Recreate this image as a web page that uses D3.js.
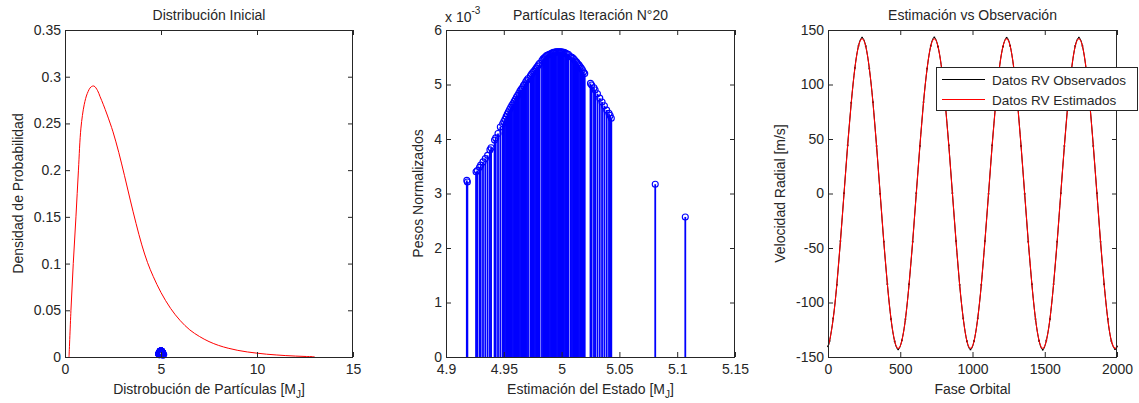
<!DOCTYPE html>
<html>
<head>
<meta charset="utf-8">
<script src="https://cdn.jsdelivr.net/npm/d3@7/dist/d3.min.js"></script>
<style>
  html, body { margin: 0; padding: 0; background: #fff; }
  svg { display: block; }
  text { font-family: "Liberation Sans", Arial, sans-serif; fill: #262626; }
</style>
</head>
<body>
<svg id="fig" width="1139" height="403"></svg>
<script>
// ---- Initial distribution (prior density over planet mass) ----
const masaX = [0.21, 0.31, 0.43, 0.57, 0.70, 0.83, 1.00, 1.16, 1.35, 1.51, 1.70, 1.82, 2.00, 2.20, 2.50,
  2.80, 3.10, 3.40, 3.70, 4.00, 4.30, 4.60, 5.00, 5.50, 6.00, 6.50, 7.00, 7.50, 8.00, 8.50, 9.00,
  9.50, 10.0, 10.5, 11.0, 11.5, 12.0, 12.5, 13.0];
const densidad = [0, 0.05, 0.10, 0.15, 0.20, 0.245, 0.270, 0.282, 0.289, 0.290, 0.285, 0.279, 0.270, 0.259, 0.241,
  0.219, 0.194, 0.168, 0.143, 0.120, 0.101, 0.086, 0.069, 0.052, 0.039, 0.029, 0.022, 0.0165, 0.0124, 0.0094, 0.0071,
  0.0054, 0.0041, 0.0030, 0.0022, 0.0015, 0.0010, 0.0006, 0.0003];

// ---- Particles at iteration 20: state estimate and normalised weight (x 1e-3) ----
const particulasX = [
  4.918, 4.9185, 4.926, 4.927, 4.929, 4.930, 4.932, 4.934, 4.936, 4.938, 4.939, 4.942, 4.943, 4.945, 4.947, 4.949, 4.950,
  4.951, 4.952, 4.953, 4.954, 4.955, 4.956, 4.957, 4.958, 4.959, 4.960, 4.961, 4.962, 4.963, 4.964, 4.965, 4.966,
  4.967, 4.968, 4.969, 4.970, 4.971, 4.973, 4.974, 4.975, 4.976, 4.977, 4.978, 4.979, 4.980, 4.981, 4.983,
  4.984, 4.985, 4.986, 4.987, 4.988, 4.989, 4.990, 4.991, 4.992, 4.993, 4.994, 4.995, 4.996, 4.997, 4.998, 4.999,
  5.000, 5.001, 5.002, 5.003, 5.004, 5.005, 5.006, 5.008, 5.009, 5.010, 5.011, 5.012, 5.013, 5.014, 5.015,
  5.016, 5.017, 5.018, 5.019, 5.020,
  5.025, 5.026, 5.028, 5.029, 5.031, 5.033, 5.035, 5.037, 5.039, 5.041, 5.042, 5.043,
  5.081, 5.107];
const pesos = [
  3.24, 3.21, 3.40, 3.42, 3.48, 3.52, 3.58, 3.64, 3.70, 3.80, 3.84, 3.98, 4.02, 4.10, 4.22, 4.28, 4.32,
  4.36, 4.41, 4.46, 4.50, 4.54, 4.58, 4.62, 4.65, 4.69, 4.73, 4.77, 4.80, 4.84, 4.88, 4.91, 4.94,
  4.98, 5.01, 5.05, 5.08, 5.11, 5.16, 5.19, 5.22, 5.24, 5.27, 5.30, 5.33, 5.36, 5.39, 5.44,
  5.47, 5.49, 5.51, 5.53, 5.54, 5.55, 5.56, 5.57, 5.58, 5.59, 5.59, 5.60, 5.60, 5.60, 5.60, 5.60,
  5.60, 5.59, 5.59, 5.58, 5.57, 5.56, 5.55, 5.51, 5.50, 5.48, 5.46, 5.43, 5.41, 5.38, 5.36,
  5.33, 5.30, 5.27, 5.23, 5.20,
  5.02, 4.99, 4.94, 4.90, 4.83, 4.75, 4.68, 4.61, 4.53, 4.47, 4.43, 4.38,
  3.17, 2.57];

// ---- Radial velocity curve over orbital phase ----
const fase = [0, 11, 36, 61, 86, 111, 136, 161, 186, 211, 236, 261, 286, 311, 336, 361, 386, 411, 436, 461,
  486, 511, 536, 561, 586, 611, 636, 661, 686, 711, 736, 761, 786, 811, 836, 861, 886, 911, 936, 961,
  986, 1011, 1036, 1061, 1086, 1111, 1136, 1161, 1186, 1211, 1236, 1261, 1286, 1311, 1336, 1361, 1386, 1411, 1436, 1461,
  1486, 1511, 1536, 1561, 1586, 1611, 1636, 1661, 1686, 1711, 1736, 1761, 1786, 1811, 1836, 1861, 1886, 1911, 1936, 1961,
  1986, 2000];
const rvEstimado = [-139.8,
  -135.1, -114.9, -83.5, -43.9, 0, 43.9, 83.5, 114.9, 135.1, 142, 135.1, 114.9, 83.5, 43.9, 0, -43.9, -83.5, -114.9, -135.1, -142,
  -135.1, -114.9, -83.5, -43.9, 0, 43.9, 83.5, 114.9, 135.1, 142, 135.1, 114.9, 83.5, 43.9, 0, -43.9, -83.5, -114.9, -135.1, -142,
  -135.1, -114.9, -83.5, -43.9, 0, 43.9, 83.5, 114.9, 135.1, 142, 135.1, 114.9, 83.5, 43.9, 0, -43.9, -83.5, -114.9, -135.1, -142,
  -135.1, -114.9, -83.5, -43.9, 0, 43.9, 83.5, 114.9, 135.1, 142, 135.1, 114.9, 83.5, 43.9, 0, -43.9, -83.5, -114.9, -135.1, -142,
  -139.8];
const rvObservado = [-140.2,
  -135.4, -114.6, -83.8, -43.6, 0.3, 44.2, 83.2, 115.2, 135.4, 143.0, 135.3, 114.6, 83.8, 43.6, -0.3, -44.2, -83.2, -115.2, -135.5, -143.0,
  -134.8, -115.2, -83.2, -44.2, 0.3, 43.6, 83.8, 114.6, 135.4, 143.2, 134.8, 115.2, 83.2, 44.2, 0.3, -43.6, -83.8, -114.6, -135.4, -143.1,
  -135.3, -114.6, -83.8, -43.6, -0.3, 44.2, 83.2, 115.2, 134.8, 142.9, 135.4, 114.6, 83.8, 43.6, -0.3, -44.2, -83.2, -115.2, -135.3, -143.3,
  -134.8, -115.2, -83.2, -44.2, 0.3, 43.6, 83.8, 114.6, 135.4, 143.0, 135.3, 114.6, 83.8, 43.6, 0.3, -44.2, -83.2, -115.1, -135.4, -142.8,
  -140.3];

// ---- Ticks ----
const ticksMasa = [0, 5, 10, 15];
const ticksDensidad = [0, 0.05, 0.1, 0.15, 0.2, 0.25, 0.3, 0.35];
const ticksEstado = [4.9, 4.95, 5, 5.05, 5.1, 5.15];
const ticksPesos = [0, 1, 2, 3, 4, 5, 6];
const ticksFase = [0, 500, 1000, 1500, 2000];
const ticksRV = [-150, -100, -50, 0, 50, 100, 150];

const svg = d3.select("#fig");
const TOP = 30, BOTTOM = 357;
const AXIS = "#262626";
const fmt = d => String(+(+d).toFixed(3));

function frame(x, y, xt, yt) {
  const [x0, x1] = x.range();
  const g = svg.append("g");
  g.append("g").attr("transform", `translate(0,${BOTTOM})`)
    .call(d3.axisBottom(x).tickValues(xt).tickFormat(fmt).tickSizeInner(-5).tickSizeOuter(0).tickPadding(7));
  g.append("g").attr("transform", `translate(0,${TOP})`)
    .call(d3.axisTop(x).tickValues(xt).tickFormat("").tickSizeInner(-5).tickSizeOuter(0));
  g.append("g").attr("transform", `translate(${x0},0)`)
    .call(d3.axisLeft(y).tickValues(yt).tickFormat(fmt).tickSizeInner(-5).tickSizeOuter(0).tickPadding(4));
  g.append("g").attr("transform", `translate(${x1},0)`)
    .call(d3.axisRight(y).tickValues(yt).tickFormat("").tickSizeInner(-5).tickSizeOuter(0));
  g.selectAll(".domain").remove();
  g.selectAll(".tick line").attr("stroke", AXIS);
  g.selectAll(".tick text").attr("font-size", 14).attr("fill", "#262626")
    .attr("font-family", "'Liberation Sans', Arial, sans-serif");
  g.append("rect").attr("x", x0 + 0.5).attr("y", TOP + 0.5)
    .attr("width", x1 - x0 - 1).attr("height", BOTTOM - TOP)
    .attr("fill", "none").attr("stroke", AXIS);
  return g;
}

function labels(x, title, ylab, ylabX, xlabNodes) {
  const [x0, x1] = x.range();
  const cx = (x0 + x1) / 2;
  svg.append("text").attr("x", cx).attr("y", 20).attr("text-anchor", "middle")
    .attr("font-size", 14).text(title);
  svg.append("text").attr("transform", `translate(${ylabX},${(TOP + BOTTOM) / 2}) rotate(-90)`)
    .attr("text-anchor", "middle").attr("font-size", 14).text(ylab);
  const t = svg.append("text").attr("x", cx).attr("y", 394).attr("text-anchor", "middle").attr("font-size", 14);
  xlabNodes(t);
}

function massLabel(base) {
  return t => {
    t.append("tspan").text(base + "[M");
    t.append("tspan").attr("font-size", 10).attr("dy", 4).text("J");
    t.append("tspan").attr("dy", -4).text("]");
  };
}

// ===== Panel 1: Distribución Inicial =====
const x1s = d3.scaleLinear().domain([0, 15]).range([65, 353]);
const y1s = d3.scaleLinear().domain([0, 0.35]).range([BOTTOM, TOP]);
svg.append("path")
  .datum(d3.zip(masaX, densidad))
  .attr("fill", "none").attr("stroke", "#ff0000").attr("stroke-width", 1)
  .attr("d", d3.line().x(d => x1s(d[0])).y(d => y1s(d[1])).curve(d3.curveCatmullRom));
svg.append("g").selectAll("circle")
  .data(d3.zip(particulasX, pesos))
  .join("circle")
  .attr("cx", d => x1s(d[0])).attr("cy", d => y1s(d[1] / 1000))
  .attr("r", 3.5).attr("fill", "none").attr("stroke", "#0000ff").attr("stroke-width", 1.5);
frame(x1s, y1s, ticksMasa, ticksDensidad);
labels(x1s, "Distribución Inicial", "Densidad de Probabilidad", 23, massLabel("Distrobución de Partículas "));

// ===== Panel 2: Partículas Iteración N°20 =====
const x2s = d3.scaleLinear().domain([4.9, 5.15]).range([446, 735]);
const y2s = d3.scaleLinear().domain([0, 6]).range([BOTTOM, TOP]);
const stems = svg.append("g");
stems.selectAll("line")
  .data(d3.zip(particulasX, pesos))
  .join("line")
  .attr("x1", d => x2s(d[0])).attr("x2", d => x2s(d[0]))
  .attr("y1", y2s(0)).attr("y2", d => y2s(d[1]))
  .attr("stroke", "#0000ff").attr("stroke-width", 1.8);
stems.selectAll("circle")
  .data(d3.zip(particulasX, pesos))
  .join("circle")
  .attr("cx", d => x2s(d[0])).attr("cy", d => y2s(d[1]))
  .attr("r", 3).attr("fill", "none").attr("stroke", "#0000ff").attr("stroke-width", 1.1);
frame(x2s, y2s, ticksEstado, ticksPesos);
labels(x2s, "Partículas Iteración N°20", "Pesos Normalizados", 423, massLabel("Estimación del Estado "));
const exp = svg.append("text").attr("x", 445).attr("y", 22).attr("font-size", 14);
exp.append("tspan").text("x 10");
exp.append("tspan").attr("font-size", 10).attr("dy", -8).text("-3");

// ===== Panel 3: Estimación vs Observación =====
const x3s = d3.scaleLinear().domain([0, 2000]).range([828, 1117]);
const y3s = d3.scaleLinear().domain([-150, 150]).range([BOTTOM, TOP]);
const rvLine = d3.line().x(d => x3s(d[0])).y(d => y3s(d[1])).curve(d3.curveNatural);
svg.append("path").datum(d3.zip(fase, rvObservado))
  .attr("fill", "none").attr("stroke", "#000").attr("stroke-width", 1).attr("d", rvLine);
svg.append("g").selectAll("rect")
  .data(d3.zip(fase, rvObservado))
  .join("rect")
  .attr("x", d => x3s(d[0]) - 0.8).attr("y", d => y3s(d[1]) - 0.8)
  .attr("width", 1.6).attr("height", 1.6).attr("fill", "#000");
svg.append("path").datum(d3.zip(fase, rvEstimado))
  .attr("fill", "none").attr("stroke", "#ff0000").attr("stroke-width", 1.1).attr("d", rvLine);
frame(x3s, y3s, ticksFase, ticksRV);
labels(x3s, "Estimación vs Observación", "Velocidad Radial [m/s]", 785, t => t.text("Fase Orbital"));

// legend
const leg = svg.append("g");
leg.append("rect").attr("x", 936.5).attr("y", 67.5).attr("width", 201).attr("height", 43)
  .attr("fill", "#fff").attr("stroke", AXIS);
const series = [["Datos RV Observados", "#000"], ["Datos RV Estimados", "#ff0000"]];
series.forEach(([name, col], i) => {
  const yy = 79.5 + i * 20;
  leg.append("line").attr("x1", 942).attr("x2", 985).attr("y1", yy).attr("y2", yy)
    .attr("stroke", col).attr("stroke-width", 1);
  leg.append("text").attr("x", 992).attr("y", yy + 5).attr("font-size", 13.5).text(name);
});
</script>
</body>
</html>
